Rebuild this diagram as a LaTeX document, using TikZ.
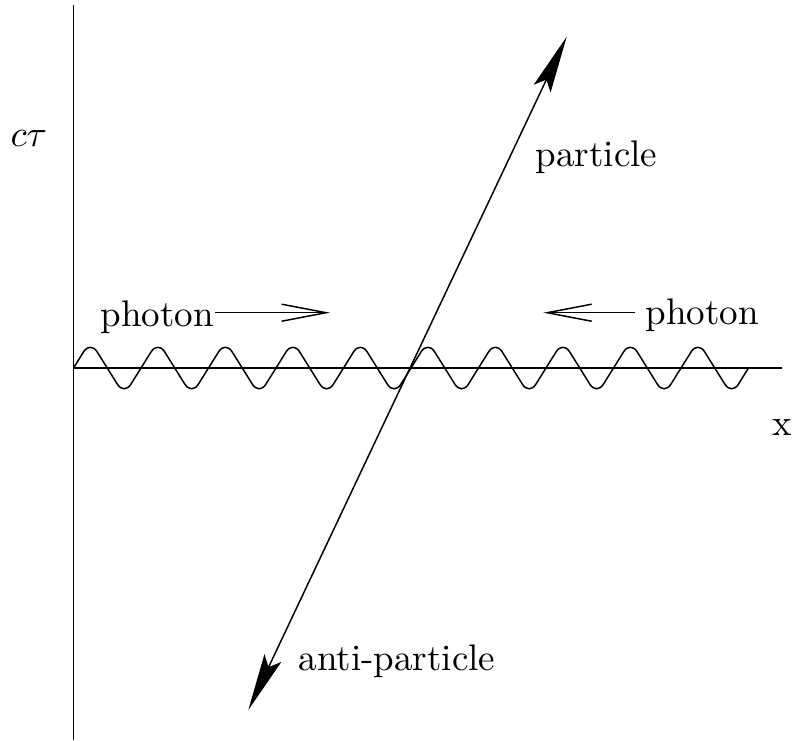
\documentclass[tikz,border=0pt]{standalone}
\usetikzlibrary{arrows.meta, positioning, calc}

\begin{document}
\begin{tikzpicture}[x=0.27pt, y=-0.27pt,
    lbl/.style={inner sep=0pt, anchor=base west},
    worldline/.style={{Stealth[length=15.5pt, width=5pt, inset=2.7pt]}-{Stealth[length=15.5pt, width=5pt, inset=2.7pt]}},
    photonarrow/.style={-{Straight Barb[length=12pt, width=4.6pt]}}]
    \useasboundingbox (0,0) rectangle (793,740);
    % axes
    \coordinate (ytop) at (73.5,5);
    \coordinate (ybot) at (73.5,740);
    \coordinate (orig) at (73.5,368);
    \coordinate (xend) at (782,368);
    \draw (ytop) -- (ybot);
    \draw (orig) -- (xend);
    % photon wave
    \draw[rounded corners=3.4pt] (orig) -- ++(16.875,-27)
        \foreach \k in {1,...,9} {-- ++(33.75,54) -- ++(33.75,-54)}
        -- ++(33.75,54) -- ++(16.875,-27);
    % labels
    \node[lbl] (ctau) at (10,146) {$c\tau$};
    \node[lbl] (part) at (535,166.7) {particle};
    \node[lbl] (phL) at (100,326.7) {photon};
    \node[lbl] (phR) at (645,324) {photon};
    \node[lbl] (xlab) at (771.5,435) {x};
    \node[lbl] (anti) at (298,670) {anti-particle};
    % photon arrows
    \coordinate (phLtip) at (330,312.7);
    \coordinate (phRtip) at (543.3,312.7);
    \coordinate (phRtail) at (635,312.7);
    \draw[photonarrow] (phL.east |- phLtip) -- (phLtip);
    \draw[photonarrow] (phRtail) -- (phRtip);
    % particle / anti-particle
    \coordinate (ptip) at (566.7,36.7);
    \coordinate (atip) at (248.3,710);
    \draw[worldline] (atip) -- (ptip);
\end{tikzpicture}
\end{document}
